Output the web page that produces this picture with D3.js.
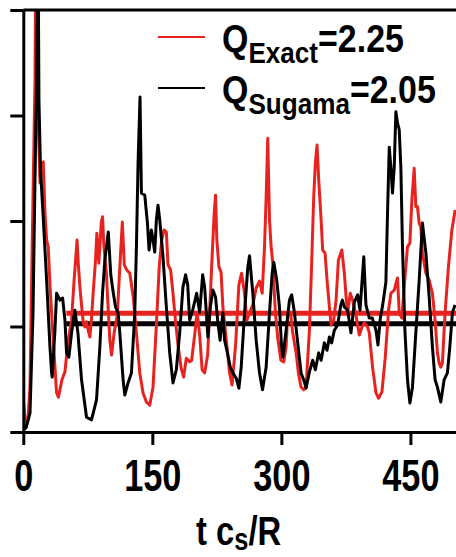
<!DOCTYPE html>
<html>
<head>
<meta charset="utf-8">
<script src="https://cdn.jsdelivr.net/npm/d3@7"></script>
<style>
  html, body { margin: 0; padding: 0; background: #fff; }
  svg { display: block; font-family: "Liberation Sans", Arial, Helvetica, sans-serif; font-weight: bold; }
</style>
</head>
<body>
<svg id="chart" width="456" height="557"></svg>
<script>
// ---- data -------------------------------------------------------------
const xTicks = [0, 150, 300, 450];
const yTicks = [0, 2, 4, 6, 8];
const meanStart = 50;          // time from which the averages are taken
const qExactMean = 2.25;
const qSugamaMean = 2.05;

// heat flux Q vs t c_s/R, exact collision operator
const exactSeries = [[0,0.61],[3.1,0.09],[5.5,0.23],[7.8,0.89],[9.7,2.88],[11.6,4.78],[13.6,6.67],[14.7,9.5],[16.5,6.29],[18.0,5.54],[19.4,4.72],[21.3,5.10],[23.2,5.12],[25.2,4.15],[27.1,3.64],[29.0,3.51],[31.0,2.79],[32.9,2.26],[34.8,1.74],[36.8,1.23],[38.7,0.74],[40.8,0.66],[43.2,0.85],[44.9,0.99],[48.4,1.14],[52.2,1.74],[56.1,2.12],[58.8,2.82],[62.5,3.64],[64.0,3.17],[65.8,2.75],[67.7,2.41],[69.6,2.09],[71.6,1.99],[73.5,2.09],[75.4,1.93],[77.4,1.80],[79.3,2.16],[81.2,2.63],[83.8,3.22],[85.5,3.77],[87.8,3.20],[90.7,3.98],[92.1,4.08],[93.6,3.54],[96.5,3.03],[98.6,2.37],[100.6,1.74],[102.6,1.46],[105.6,1.88],[109.3,2.22],[112.2,3.13],[115.1,3.98],[117.4,3.17],[120.3,3.07],[123.8,3.01],[127.8,2.56],[131.5,1.88],[135.4,1.12],[139.2,0.74],[143.1,0.57],[147.0,0.51],[150.8,0.85],[154.7,2.03],[158.0,3.13],[160.9,3.64],[163.6,3.83],[166.3,3.79],[168.2,3.17],[171.3,3.07],[174.0,2.63],[176.8,2.12],[179.8,1.65],[183.5,1.21],[186.4,1.04],[189.5,1.40],[193.4,1.33],[195.7,1.36],[199.2,1.84],[202.1,2.26],[205.0,1.84],[207.9,1.18],[210.8,1.12],[214.3,1.46],[217.2,2.50],[220.1,3.54],[222.0,4.17],[223.5,4.49],[225.0,3.64],[227.4,3.13],[229.9,3.03],[232.0,2.37],[236.0,1.74],[239.8,1.12],[242.7,0.89],[246.8,1.65],[250.6,2.79],[253.7,3.01],[257.2,2.63],[259.8,2.12],[263.0,2.26],[266.8,2.41],[270.7,2.73],[274.6,2.86],[277.7,2.63],[280.4,3.51],[282.3,4.45],[284.2,5.57],[286.2,4.02],[288.1,3.51],[290.0,3.20],[293.1,2.26],[295.8,1.78],[299.5,1.36],[302.8,1.33],[305.5,1.61],[307.4,2.26],[310.5,2.26],[313.2,1.88],[317.1,1.50],[319.8,1.12],[322.9,0.85],[325.9,0.80],[328.7,0.85],[332.6,1.93],[335.2,3.20],[337.6,4.45],[339.5,5.10],[341.5,5.44],[343.4,4.78],[346.2,4.02],[348.0,3.45],[350.8,3.39],[353.1,2.88],[355.8,2.37],[357.8,2.03],[360.8,2.12],[363.6,2.50],[366.3,3.26],[370.3,3.45],[373.2,3.01],[375.2,2.56],[377.0,2.26],[380.1,2.63],[382.8,2.50],[386.7,2.22],[390.6,1.84],[393.7,1.99],[396.4,2.07],[400.2,1.99],[402.2,1.88],[406.0,1.23],[410.0,0.74],[413.0,0.64],[416.9,0.76],[420.7,1.40],[424.6,2.31],[427.3,2.63],[431.2,2.69],[435.0,2.92],[437.0,2.26],[440.1,2.16],[442.8,2.75],[446.6,3.51],[449.4,3.58],[451.7,4.40],[454.4,5.00],[456.3,4.27],[458.2,4.27],[460.2,3.96],[462.1,3.89],[464.0,3.39],[468.0,3.01],[471.8,2.88],[475.6,2.63],[478.7,2.12],[481.4,1.50],[483.4,1.31],[485.3,1.23],[487.2,1.31],[490.3,2.26],[494.2,3.13],[498.2,3.83],[502,4.21]];

// heat flux Q vs t c_s/R, Sugama collision operator
const sugamaSeries = [[0,0.04],[3.1,0.08],[7.8,0.36],[11.3,2.26],[13.6,4.78],[15.5,6.67],[17.1,9.5],[18.2,6.29],[20.0,4.97],[22.9,4.15],[27.1,2.88],[31.0,1.61],[32.9,1.12],[33.6,1.04],[36.8,1.93],[38.7,2.63],[42.6,2.50],[45.7,2.54],[48.4,2.12],[50.3,1.50],[53.0,1.42],[56.1,1.88],[60.0,2.31],[63.5,1.88],[67.7,0.99],[73.5,0.28],[79.3,0.23],[85.1,0.61],[89.0,1.61],[92.1,2.63],[94.8,3.26],[98.8,3.79],[101.7,2.98],[104.1,2.69],[107.2,2.37],[110.2,2.26],[112.2,1.88],[116.0,0.99],[118.0,0.70],[121.8,0.93],[125.7,1.12],[129.6,2.26],[131.5,3.51],[133.4,5.10],[135.7,6.35],[137.3,4.53],[141.2,4.49],[144.3,3.96],[146.2,3.45],[148.9,3.83],[150.8,3.64],[152.8,3.41],[154.7,4.02],[156.6,4.30],[158.6,4.02],[162.4,3.32],[166.3,2.37],[170.2,1.50],[174.0,0.93],[177.9,1.18],[181.8,1.88],[185.6,2.75],[188.7,2.98],[191.1,2.79],[193.4,2.12],[196.9,2.31],[201.5,2.63],[205.0,2.27],[208.5,2.98],[210.8,2.75],[214.6,1.80],[217.4,2.37],[220.4,2.69],[223.5,2.56],[226.2,2.07],[228.8,1.74],[232.0,2.26],[234.0,1.74],[237.8,1.46],[240.9,1.21],[243.6,1.12],[247.5,1.02],[250.6,0.83],[253.3,1.23],[257.2,2.26],[261.0,3.13],[263.0,3.34],[266.8,2.63],[270.7,1.74],[274.6,1.12],[278.1,0.80],[282.3,1.23],[286.2,2.26],[289.3,3.01],[291.2,3.22],[294.6,2.88],[297.8,2.37],[300.1,1.65],[301.8,1.42],[305.5,1.93],[309.4,2.50],[312.0,2.60],[315.2,2.26],[319.0,1.69],[322.9,1.12],[326.8,0.95],[328.7,0.83],[332.6,1.14],[336.4,1.36],[339.5,1.18],[343.4,1.50],[346.2,1.36],[350.0,1.69],[353.1,1.55],[355.8,1.80],[358.4,1.69],[361.6,1.93],[365.4,2.03],[369.1,2.41],[370.9,2.50],[373.2,2.37],[377.0,2.31],[380.9,1.88],[384.8,2.46],[388.6,2.60],[391.4,2.31],[395.8,3.32],[398.3,2.41],[402.2,2.16],[405.7,2.16],[410.0,1.93],[412.3,1.65],[415.0,2.16],[417.8,2.41],[421.5,2.84],[423.4,4.15],[425.4,5.40],[427.3,5.02],[429.2,4.53],[431.2,5.02],[433.1,6.07],[435.0,5.86],[437.0,5.73],[438.9,5.02],[440.8,3.51],[443.6,1.93],[446.6,0.99],[449.4,0.55],[452.4,0.85],[456.3,1.88],[460.2,2.88],[464.0,3.96],[468.0,3.39],[471.8,2.56],[475.6,1.61],[478.7,0.99],[481.4,0.85],[485.3,0.57],[489.2,0.99],[493.0,1.12],[495.8,1.61],[498.8,2.26],[501.9,2.41]];

const legendEntries = [
  { key: "exact",  main: "Q", sub: "Exact",  value: "=2.25" },
  { key: "sugama", main: "Q", sub: "Sugama", value: "=2.05" }
];

// ---- layout -----------------------------------------------------------
const colors = { exact: "#e8231f", sugama: "#000000" };
const plot = { left: 23.3, right: 456, top: 10, bottom: 432 };

const svg = d3.select("#chart");
const x = d3.scaleLinear().domain([0, 503]).range([plot.left, plot.right]);
const y = d3.scaleLinear().domain([0, 8]).range([plot.bottom, plot.top]);

svg.append("defs").append("clipPath").attr("id", "plotClip")
  .append("rect")
  .attr("x", plot.left).attr("y", plot.top)
  .attr("width", plot.right - plot.left).attr("height", plot.bottom - plot.top);

const body = svg.append("g").attr("clip-path", "url(#plotClip)");

// time-averaged fluxes
const means = [
  { key: "exact", q: qExactMean },
  { key: "sugama", q: qSugamaMean }
];
body.selectAll("line.mean").data(means).join("line")
  .attr("class", "mean")
  .attr("x1", x(meanStart)).attr("x2", x(503))
  .attr("y1", d => y(d.q)).attr("y2", d => y(d.q))
  .attr("stroke", d => colors[d.key])
  .attr("stroke-width", 5);

// time traces
const line = d3.line().x(d => x(d[0])).y(d => y(d[1]));
body.append("path").datum(exactSeries)
  .attr("d", line).attr("fill", "none")
  .attr("stroke", colors.exact).attr("stroke-width", 3)
  .attr("stroke-linejoin", "round");
body.append("path").datum(sugamaSeries)
  .attr("d", line).attr("fill", "none")
  .attr("stroke", colors.sugama).attr("stroke-width", 3)
  .attr("stroke-linejoin", "round");

// ---- axes -------------------------------------------------------------
const yAxis = svg.append("g")
  .attr("transform", `translate(${plot.left},0)`)
  .call(d3.axisLeft(y).tickValues(yTicks).tickSize(13).tickSizeOuter(0).tickFormat(""));
yAxis.selectAll("line").attr("stroke", "#000").attr("stroke-width", 3);
yAxis.select(".domain").attr("stroke", "#000").attr("stroke-width", 3);

const xAxis = svg.append("g")
  .attr("transform", `translate(0,${plot.bottom})`)
  .call(d3.axisBottom(x).tickValues(xTicks).tickSize(13).tickSizeOuter(0).tickFormat(d3.format("d")));
xAxis.select(".domain").attr("stroke", "#000").attr("stroke-width", 3);
xAxis.selectAll(".tick line").attr("stroke", "#000").attr("stroke-width", 3);
xAxis.selectAll(".tick text")
  .attr("y", null).attr("dy", null)
  .attr("transform", "translate(0,59) scale(0.78,1)")
  .attr("text-anchor", "middle")
  .attr("font-size", 44).attr("font-weight", "bold")
  .attr("font-family", "'Liberation Sans', Arial, sans-serif")
  .attr("fill", "#000");

// top frame
svg.append("line")
  .attr("x1", plot.left).attr("x2", plot.right)
  .attr("y1", plot.top).attr("y2", plot.top)
  .attr("stroke", "#000").attr("stroke-width", 3);

// axis title
const title = svg.append("text")
  .attr("transform", "translate(196,545) scale(0.82,1)")
  .attr("font-size", 40).attr("fill", "#000");
title.append("tspan").text("t c");
title.append("tspan").attr("font-size", 31).attr("dy", 5).text("s");
title.append("tspan").attr("dy", -5).text("/R");

// ---- legend -----------------------------------------------------------
const legend = svg.append("g");
const rows = legend.selectAll("g").data(legendEntries).join("g")
  .attr("transform", (d, i) => `translate(0,${i * 51})`);
rows.append("line")
  .attr("x1", 158).attr("x2", 205).attr("y1", 37).attr("y2", 37)
  .attr("stroke", d => colors[d.key]).attr("stroke-width", 2.2);
const lt = rows.append("text")
  .attr("transform", "translate(222,52) scale(0.87,1)")
  .attr("fill", "#000");
lt.append("tspan").attr("font-size", 39).text(d => d.main);
lt.append("tspan").attr("font-size", 30).attr("dy", 11).text(d => d.sub);
lt.append("tspan").attr("font-size", 39).attr("dy", -11).text(d => d.value);
</script>
</body>
</html>
